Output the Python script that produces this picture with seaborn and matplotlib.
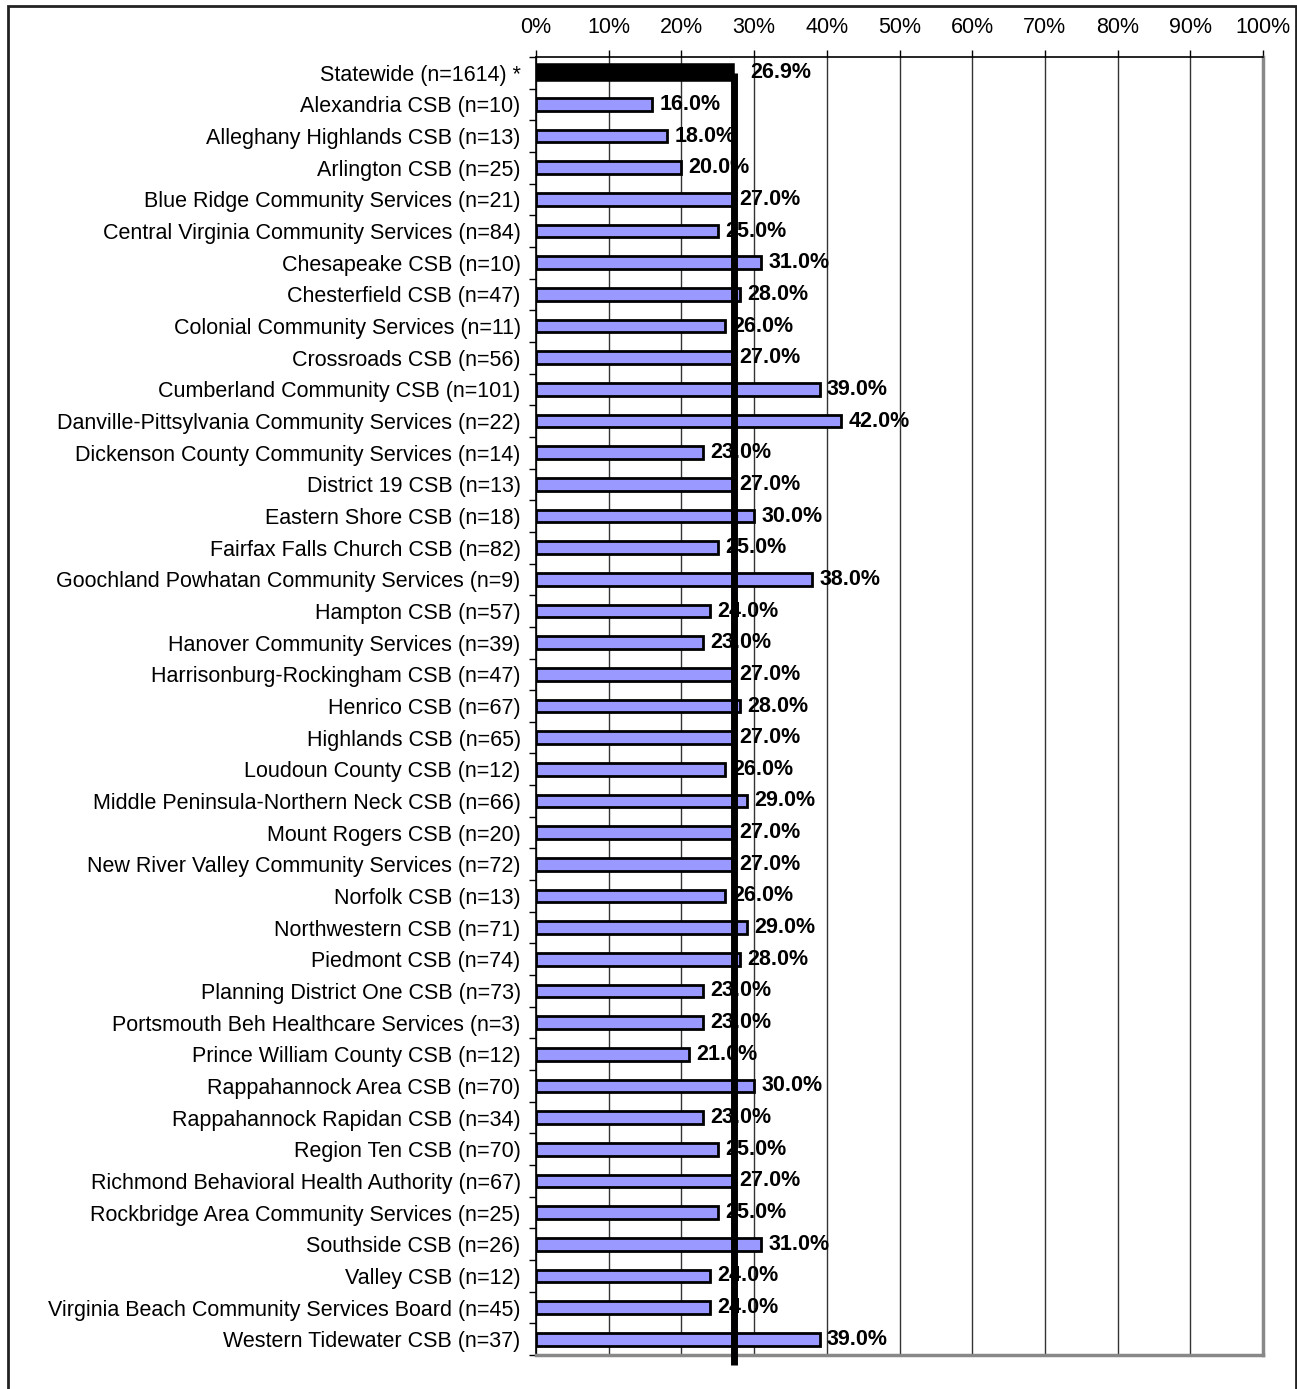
import matplotlib
matplotlib.use("Agg")
import matplotlib.pyplot as plt
import seaborn as sns
import pandas as pd
from matplotlib.patches import Rectangle
from matplotlib.ticker import MultipleLocator, PercentFormatter

# data
csb_names = [
    "Statewide (n=1614) *",
    "Alexandria CSB (n=10)",
    "Alleghany Highlands CSB (n=13)",
    "Arlington CSB (n=25)",
    "Blue Ridge Community Services (n=21)",
    "Central Virginia Community Services (n=84)",
    "Chesapeake CSB (n=10)",
    "Chesterfield CSB (n=47)",
    "Colonial Community Services (n=11)",
    "Crossroads CSB (n=56)",
    "Cumberland Community CSB (n=101)",
    "Danville-Pittsylvania Community Services (n=22)",
    "Dickenson County Community Services (n=14)",
    "District 19 CSB (n=13)",
    "Eastern Shore CSB (n=18)",
    "Fairfax Falls Church CSB (n=82)",
    "Goochland Powhatan Community Services (n=9)",
    "Hampton CSB (n=57)",
    "Hanover Community Services (n=39)",
    "Harrisonburg-Rockingham CSB (n=47)",
    "Henrico CSB (n=67)",
    "Highlands CSB (n=65)",
    "Loudoun County CSB (n=12)",
    "Middle Peninsula-Northern Neck CSB (n=66)",
    "Mount Rogers CSB (n=20)",
    "New River Valley Community Services (n=72)",
    "Norfolk CSB (n=13)",
    "Northwestern CSB (n=71)",
    "Piedmont CSB (n=74)",
    "Planning District One CSB (n=73)",
    "Portsmouth Beh Healthcare Services (n=3)",
    "Prince William County CSB (n=12)",
    "Rappahannock Area CSB (n=70)",
    "Rappahannock Rapidan CSB (n=34)",
    "Region Ten CSB (n=70)",
    "Richmond Behavioral Health Authority (n=67)",
    "Rockbridge Area Community Services (n=25)",
    "Southside CSB (n=26)",
    "Valley CSB (n=12)",
    "Virginia Beach Community Services Board (n=45)",
    "Western Tidewater CSB (n=37)",
]
pct_values = [
    26.9, 16, 18, 20, 27, 25, 31, 28, 26, 27, 39, 42, 23, 27, 30, 25, 38,
    24, 23, 27, 28, 27, 26, 29, 27, 27, 26, 29, 28, 23, 23, 21, 30, 23,
    25, 27, 25, 31, 24, 24, 39,
]
statewide_value = pct_values[0]

df = pd.DataFrame({"name": csb_names, "pct": pct_values})

plt.rcParams["font.family"] = ["Liberation Sans", "DejaVu Sans"]

fig = plt.figure(figsize=(12.97, 13.89), dpi=100)
ax = fig.add_axes([536 / 1297, 1 - 1355 / 1389, 727 / 1297, 1298 / 1389])

bar_colors = ["black"] + ["#9999FF"] * (len(csb_names) - 1)
sns.barplot(data=df, x="pct", y="name", hue="name", palette=bar_colors,
            legend=False, orient="h", width=0.4, edgecolor="black",
            linewidth=2, saturation=1, ax=ax, zorder=3)
ax.patches[0].set_linewidth(4)

ax.set_xlim(0, 100)
ax.set_ylim(len(csb_names) - 0.5, -0.5)
ax.xaxis.set_major_locator(MultipleLocator(10))
ax.xaxis.set_major_formatter(PercentFormatter(decimals=0))
ax.xaxis.tick_top()
ax.set_xlabel("")
ax.set_ylabel("")
ax.grid(axis="x", color="#333333", linewidth=1, zorder=0)
ax.grid(axis="y", visible=False)
ax.set_axisbelow(True)

ax.tick_params(axis="x", direction="out", length=5, width=1, pad=9,
               labelsize=15.5, color="black")
ax.tick_params(axis="y", length=0, pad=11, labelsize=15.5)
# tick marks between categories on the left
ax.set_yticks([i + 0.5 for i in range(-1, len(csb_names))], minor=True)
ax.tick_params(axis="y", which="minor", direction="out", length=5, width=1,
               color="black")

for side in ["top", "left"]:
    ax.spines[side].set_color("black")
    ax.spines[side].set_linewidth(1.2)
for side in ["right", "bottom"]:
    ax.spines[side].set_color("#888888")
    ax.spines[side].set_linewidth(2.5)

# value labels
for i, v in enumerate(pct_values):
    off = 2.6 if i == 0 else 1.0
    ax.text(v + off, i, f"{v:.1f}%", va="center", ha="left",
            fontsize=15.5, fontweight="bold", color="black", zorder=4)

# statewide reference line
ax.plot([statewide_value + 0.4, statewide_value + 0.4],
        [0, len(csb_names) - 0.5 + 0.33], color="black", linewidth=5,
        zorder=5, clip_on=False, solid_capstyle="butt")

# outer frame around the figure (bottom edge falls outside the image)
fig.patches.append(Rectangle((8 / 1297, -0.05), 1288 / 1297, 1.05 - 6 / 1389,
                             transform=fig.transFigure, fill=False,
                             edgecolor="#222222", linewidth=2))

fig.savefig("out.png", dpi=100)
